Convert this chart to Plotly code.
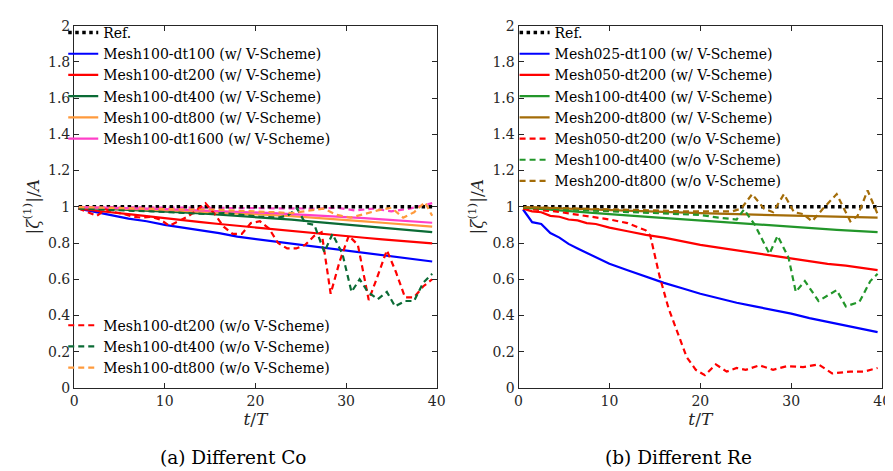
import plotly.graph_objects as go

# ---------------- data ----------------
ref_t = [0.5, 39.5]
ref_y = [1.0, 1.0]

# (a) Different Co
a_t_solid = [0.5, 2, 4, 6, 8, 10, 12, 14, 16, 18, 20, 22, 24, 26, 28, 30, 32, 34, 36, 38, 39.5]
a_dt100 = [0.99, 0.975, 0.955, 0.935, 0.92, 0.90, 0.885, 0.87, 0.855, 0.835, 0.822, 0.81, 0.797, 0.785, 0.772, 0.757, 0.745, 0.733, 0.72, 0.708, 0.698]
a_dt200 = [0.99, 0.98, 0.97, 0.96, 0.948, 0.935, 0.925, 0.915, 0.905, 0.895, 0.886, 0.876, 0.866, 0.856, 0.847, 0.838, 0.829, 0.82, 0.812, 0.804, 0.798]
a_dt400 = [0.995, 0.992, 0.988, 0.984, 0.979, 0.974, 0.969, 0.963, 0.957, 0.951, 0.945, 0.937, 0.929, 0.92, 0.911, 0.902, 0.893, 0.884, 0.876, 0.867, 0.86]
a_dt800 = [0.998, 0.996, 0.993, 0.99, 0.986, 0.982, 0.978, 0.974, 0.969, 0.964, 0.96, 0.954, 0.948, 0.942, 0.935, 0.928, 0.92, 0.912, 0.905, 0.897, 0.89]
a_dt1600 = [0.998, 0.997, 0.995, 0.993, 0.99, 0.987, 0.984, 0.98, 0.977, 0.973, 0.969, 0.965, 0.96, 0.955, 0.949, 0.943, 0.937, 0.93, 0.924, 0.917, 0.912]

a_t_nv200 = [0.5, 1.5, 2.5, 3.5, 4.5, 5.5, 6.5, 7.5, 8.5, 9.5, 10.5, 11.5, 12.5, 13.5, 14.5, 15.5, 16.5, 17.5, 18.5, 19.5,
             20.5, 21.5, 22.5, 23.5, 24.5, 25.5, 26.5, 27.3, 28.3, 29.3, 30.3, 31.3, 32.5, 33.5, 34.5, 35.5, 36.5, 37.5, 38.5, 39.5]
a_nv200 = [0.99, 0.97, 0.95, 0.985, 0.97, 0.96, 0.945, 0.94, 0.945, 0.93, 0.895, 0.92, 0.945, 0.98, 1.02, 0.96, 0.89, 0.85, 0.85, 0.91,
           0.92, 0.88, 0.80, 0.77, 0.77, 0.79, 0.84, 0.86, 0.52, 0.70, 0.84, 0.79, 0.485, 0.62, 0.76, 0.64, 0.50, 0.50, 0.56, 0.60]
a_t_nv400 = [0.5, 2.5, 4.5, 6.5, 8.5, 10.5, 12.5, 14.5, 16.5, 18.5, 20.5, 22.5, 23.5, 24.6, 25.5, 26.5, 27.6, 28.5, 29.6, 30.6,
             31.5, 32.4, 33.5, 34.5, 35.4, 36.5, 37.5, 38.5, 39.5]
a_nv400 = [0.99, 0.985, 0.98, 0.978, 0.975, 0.97, 0.965, 0.96, 0.965, 0.955, 0.945, 0.94, 0.95, 0.99, 0.91, 0.90, 0.75, 0.85, 0.74, 0.53,
           0.60, 0.53, 0.49, 0.53, 0.45, 0.48, 0.48, 0.58, 0.63]
a_t_nv800 = [0.5, 3, 6, 9, 12, 15, 18, 20, 22, 24, 26, 27.5, 29, 30.5, 32, 33.5, 35, 36.3, 37.5, 38.7, 39.5]
a_nv800 = [0.998, 0.995, 0.99, 0.99, 0.985, 0.985, 0.98, 0.975, 0.97, 0.965, 0.98, 0.99, 0.955, 0.94, 0.96, 0.98, 0.995, 0.94, 0.97, 1.025, 0.95]
a_t_nv1600 = [0.5, 4, 8, 12, 16, 20, 24, 27, 29, 31, 33, 35, 37, 39.5]
a_nv1600 = [0.999, 0.998, 0.997, 0.996, 0.995, 0.994, 0.993, 0.99, 0.995, 0.98, 0.99, 0.975, 0.99, 1.02]

# (b) Different Re
b_t_solid = [0.5, 1.5, 2.5, 3.5, 4.5, 5.5, 6.5, 7.5, 8.5, 10, 12, 14, 16, 18, 20, 22, 24, 26, 28, 30, 32, 34, 36, 38, 39.5]
b_m025 = [0.985, 0.915, 0.905, 0.855, 0.83, 0.795, 0.77, 0.745, 0.72, 0.685, 0.65, 0.615, 0.58, 0.55, 0.52, 0.495, 0.47, 0.45, 0.43, 0.41, 0.385, 0.365, 0.345, 0.325, 0.308]
b_m050 = [0.99, 0.975, 0.97, 0.95, 0.945, 0.93, 0.925, 0.91, 0.905, 0.885, 0.865, 0.845, 0.83, 0.81, 0.79, 0.775, 0.76, 0.745, 0.73, 0.715, 0.70, 0.685, 0.675, 0.66, 0.65]
b_t_smooth = [0.5, 5, 10, 15, 20, 25, 30, 35, 39.5]
b_m100 = [0.995, 0.98, 0.96, 0.942, 0.925, 0.905, 0.89, 0.873, 0.86]
b_m200 = [0.998, 0.99, 0.98, 0.972, 0.965, 0.958, 0.951, 0.945, 0.94]

b_t_nv050 = [0.5, 2, 4, 6, 8, 10, 12, 13, 14, 14.5, 15.5, 16.5, 17.5, 18.5, 19.5, 20.5, 21.7, 22.9, 24, 25, 26.5, 28, 29.5, 31.3, 33, 34.5, 36.5, 38, 39.5]
b_nv050 = [0.99, 0.985, 0.975, 0.96, 0.945, 0.93, 0.91, 0.89, 0.87, 0.84, 0.62, 0.44, 0.31, 0.17, 0.10, 0.07, 0.13, 0.09, 0.11, 0.10, 0.125, 0.10, 0.12, 0.115, 0.13, 0.08, 0.09, 0.09, 0.11]
b_t_nv100 = [0.5, 3, 6, 9, 12, 15, 18, 20, 22, 24, 24.8, 26, 27.6, 28.5, 29.7, 30.5, 31.5, 33, 35, 36, 37.5, 38.7, 39.5]
b_nv100 = [0.995, 0.99, 0.985, 0.98, 0.975, 0.965, 0.96, 0.955, 0.94, 0.93, 0.985, 0.90, 0.74, 0.84, 0.72, 0.53, 0.59, 0.48, 0.54, 0.45, 0.475, 0.59, 0.63]
b_t_nv200 = [0.5, 3, 6, 9, 12, 15, 18, 20, 22, 23.5, 24.5, 25.7, 27, 28, 29.2, 30.3, 31.3, 32.3, 33.5, 35, 36.5, 37.3, 38.4, 39.5]
b_nv200 = [0.998, 0.995, 0.995, 0.99, 0.985, 0.98, 0.975, 0.975, 0.975, 0.975, 0.99, 1.07, 0.99, 0.97, 1.07, 0.97, 0.96, 0.92, 0.99, 1.07, 0.92, 0.95, 1.09, 0.96]

x_ticks = [0, 10, 20, 30, 40]
y_ticks = [0, 0.2, 0.4, 0.6, 0.8, 1, 1.2, 1.4, 1.6, 1.8, 2]
y_ticktext = ["0", "0.2", "0.4", "0.6", "0.8", "1", "1.2", "1.4", "1.6", "1.8", "2"]

# ---------------- style ----------------
FONT = "DejaVu Serif"
AX = "#262626"
BLUE = "#0000FF"
RED = "#FF0000"
DKGREEN = "#0B6B35"
ORANGE = "#FF9A3C"
PINK = "#FF3FC8"
GREEN = "#22962A"
BROWN = "#A36C08"
LW = 2.2
DASH = "6px,4px"

fig = go.Figure()

def add(x, y, name, color, dash="solid", xa="x", ya="y", legend="legend", show=True, width=LW):
    fig.add_trace(go.Scatter(x=x, y=y, name=name, mode="lines",
                             line=dict(color=color, width=width, dash=dash),
                             xaxis=xa, yaxis=ya, legend=legend, showlegend=show))

# panel (a)
add(a_t_nv1600, a_nv1600, "Mesh100-dt1600 (w/o V-Scheme)", PINK, DASH, show=False)
add(ref_t, ref_y, "Ref.", "black", "dot", width=3.5)
add(a_t_solid, a_dt100, "Mesh100-dt100 (w/ V-Scheme)", BLUE)
add(a_t_solid, a_dt200, "Mesh100-dt200 (w/ V-Scheme)", RED)
add(a_t_solid, a_dt400, "Mesh100-dt400 (w/ V-Scheme)", DKGREEN)
add(a_t_solid, a_dt800, "Mesh100-dt800 (w/ V-Scheme)", ORANGE)
add(a_t_solid, a_dt1600, "Mesh100-dt1600 (w/ V-Scheme)", PINK)
add(a_t_nv200, a_nv200, "Mesh100-dt200 (w/o V-Scheme)", RED, DASH, legend="legend2")
add(a_t_nv400, a_nv400, "Mesh100-dt400 (w/o V-Scheme)", DKGREEN, DASH, legend="legend2")
add(a_t_nv800, a_nv800, "Mesh100-dt800 (w/o V-Scheme)", ORANGE, DASH, legend="legend2")

# panel (b)
add(ref_t, ref_y, "Ref.", "black", "dot", xa="x2", ya="y2", legend="legend3", width=3.5)
add(b_t_solid, b_m025, "Mesh025-dt100 (w/ V-Scheme)", BLUE, xa="x2", ya="y2", legend="legend3")
add(b_t_solid, b_m050, "Mesh050-dt200 (w/ V-Scheme)", RED, xa="x2", ya="y2", legend="legend3")
add(b_t_smooth, b_m100, "Mesh100-dt400 (w/ V-Scheme)", GREEN, xa="x2", ya="y2", legend="legend3")
add(b_t_smooth, b_m200, "Mesh200-dt800 (w/ V-Scheme)", BROWN, xa="x2", ya="y2", legend="legend3")
add(b_t_nv050, b_nv050, "Mesh050-dt200 (w/o V-Scheme)", RED, DASH, xa="x2", ya="y2", legend="legend3")
add(b_t_nv100, b_nv100, "Mesh100-dt400 (w/o V-Scheme)", GREEN, DASH, xa="x2", ya="y2", legend="legend3")
add(b_t_nv200, b_nv200, "Mesh200-dt800 (w/o V-Scheme)", BROWN, DASH, xa="x2", ya="y2", legend="legend3")

axis_common = dict(showline=True, linecolor=AX, linewidth=1, mirror="ticks", ticks="inside",
                   ticklen=5, tickcolor=AX, tickwidth=1, showgrid=False, zeroline=False,
                   tickfont=dict(family=FONT, size=14, color=AX))

xa = dict(axis_common, range=[0, 40], tickvals=x_ticks,
          title=dict(text="<i>t</i>/<i>T</i>", font=dict(family=FONT, size=17, color=AX), standoff=2))
ya = dict(axis_common, range=[0, 2], tickvals=y_ticks, ticktext=y_ticktext,
          title=dict(text="|<i>ζ</i><sup>(1)</sup>|/<i>A</i>", font=dict(family=FONT, size=17, color=AX), standoff=4))

leg_common = dict(bgcolor="rgba(0,0,0,0)", borderwidth=0, xanchor="left", yanchor="top",
                  font=dict(family=FONT, size=14, color="black"), tracegroupgap=0)

fig.update_layout(
    width=893, height=471,
    margin=dict(l=0, r=0, t=0, b=0),
    paper_bgcolor="white", plot_bgcolor="white",
    xaxis=dict(xa, domain=[63 / 893, 431 / 893], anchor="y"),
    yaxis=dict(ya, domain=[86 / 471, 461 / 471], anchor="x"),
    xaxis2=dict(xa, domain=[514 / 893, 883 / 893], anchor="y2"),
    yaxis2=dict(ya, domain=[86 / 471, 461 / 471], anchor="x2"),
    legend=dict(leg_common, x=52 / 893, y=1 - 1 / 471),
    legend2=dict(leg_common, x=52 / 893, y=1 - 304 / 471),
    legend3=dict(leg_common, x=510 / 893, y=1 - 1 / 471),
    annotations=[
        dict(text="(a) Different Co", x=225 / 893, y=1 - 457 / 471, xref="paper", yref="paper",
             showarrow=False, font=dict(family=FONT, size=18.5, color="black"), xanchor="center", yanchor="middle"),
        dict(text="(b) Different Re", x=676 / 893, y=1 - 457 / 471, xref="paper", yref="paper",
             showarrow=False, font=dict(family=FONT, size=18.5, color="black"), xanchor="center", yanchor="middle"),
    ],
)

fig.write_html("out.html")
